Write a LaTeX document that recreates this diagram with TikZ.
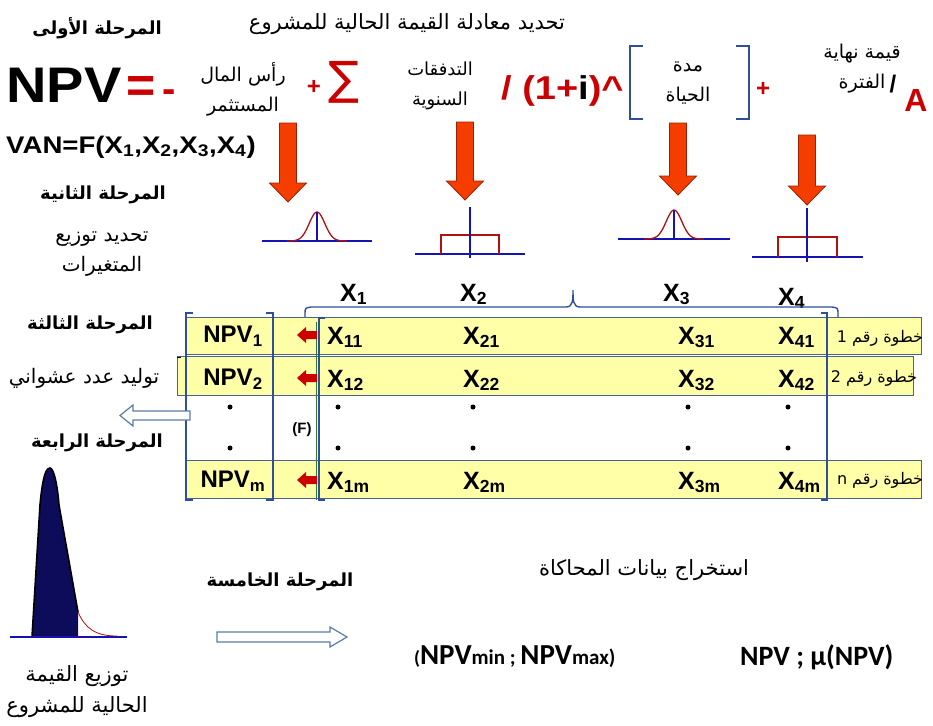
\documentclass[tikz,border=0pt]{standalone}
\usepackage{fontspec}
\setmainfont{Liberation Sans}
\newfontfamily\ar[Script=Arabic]{DejaVu Sans}
\newfontfamily\calfont{Carlito}
\TeXXeTstate=1
\newcommand\AR[1]{{\ar\beginR #1\endR}}
\definecolor{redA}{HTML}{CC0000}
\definecolor{arrowfill}{HTML}{F53D00}
\definecolor{arrowline}{HTML}{9A2000}
\definecolor{distblue}{HTML}{1414B4}
\definecolor{distred}{HTML}{B01010}
\definecolor{brblue}{HTML}{2F4F96}
\definecolor{rowfill}{HTML}{FFFFA8}
\definecolor{rowline}{HTML}{46648F}
\definecolor{navyfill}{HTML}{0C0C5A}
\definecolor{hollowline}{HTML}{5B7BA5}
\definecolor{greenL}{HTML}{2E7D32}
\newcommand\downblk[3]{\draw[arrowblk] (#1-8.5,#2) -- (#1+8.5,#2) -- (#1+8.5,#3-19) -- (#1+18.5,#3-19) -- (#1,#3) -- (#1-18.5,#3-19) -- (#1-8.5,#3-19) -- cycle;}
\newcommand\redleft[1]{\fill[redA] (317,#1-4) -- (306,#1-4) -- (306,#1-8) -- (297,#1) -- (306,#1+8) -- (306,#1+4) -- (317,#1+4) -- cycle;}
\newcommand\normd[3]{% center x, baseline y, half line length
  \draw[distblue, line width=1.6pt] (#1-#3,#2) -- (#1+#3,#2);
  \draw[distred, line width=1.3pt] plot[domain=-30:30, samples=41, smooth] ({#1+\x}, {#2-29*exp(-(\x/11)*(\x/11))});
  \draw[distblue, line width=1.6pt] (#1,#2) -- (#1,#2-29);}
\begin{document}
\begin{tikzpicture}[x=1pt,y=-1pt,
  t/.style={inner sep=0pt, align=center},
  arb/.style={t, font=\bfseries\fontsize{18}{20}\selectfont},
  arr/.style={t, font=\fontsize{19}{30}\selectfont},
  xb/.style={t, anchor=base west, font=\bfseries\fontsize{25}{25}\selectfont},
  npvb/.style={t, font=\bfseries\fontsize{24}{24}\selectfont},
  dotc/.style={fill=black, circle, inner sep=0pt, minimum size=5pt},
  arrowblk/.style={fill=arrowfill, draw=arrowline, line width=0.8pt},
  rowbox/.style={fill=rowfill, draw=rowline, line width=0.8pt},
  brk/.style={draw=brblue, line width=1.8pt},
  hollow/.style={fill=white, draw=hollowline, line width=1.2pt},
  stepl/.style={t, font=\fontsize{16}{16}\selectfont}]
\useasboundingbox (0,0) rectangle (933,725);

% ---------- stage 1 : equation ----------
\node[arb] (st1) at (97,28) {\AR{المرحلة الأولى}};
\node[t, font=\fontsize{21}{24}\selectfont] (ttl) at (407,24) {\AR{تحديد معادلة القيمة الحالية للمشروع}};
\node[t, anchor=base west, font=\bfseries\fontsize{50}{50}\selectfont, xscale=1.12] (npv) at (6,102) {NPV};
\node[t, anchor=base, text=redA, font=\bfseries\fontsize{50}{50}\selectfont] (eq) at (141,102) {=};
\node[t, anchor=base, text=redA, font=\bfseries\fontsize{40}{40}\selectfont] (minus) at (169,102) {-};
\node[arr] (cap) at (243,89) {\AR{رأس المال}\\\AR{المستثمر}};
\node[t, text=redA, font=\bfseries\fontsize{24}{24}\selectfont] (pl1) at (314,87) {+};
\node[t, text=redA, font=\ar\fontsize{46}{46}\selectfont] (sig) at (344,82) {∑};
\node[t, font=\fontsize{18}{30}\selectfont] (flows) at (440,86) {\AR{التدفقات}\\\AR{السنوية}};
\node[t, anchor=west, text=redA, font=\bfseries\fontsize{33}{33}\selectfont, xscale=1.15] (disc) at (501,91) {/ (1+\textcolor{black}{i})\textasciicircum};
\draw[brk] (643,46) -- (630,46) -- (630,119) -- (643,119);
\draw[brk] (736,46) -- (749,46) -- (749,119) -- (736,119);
\node[t, font=\fontsize{19}{30}\selectfont] (life) at (688,83) {\AR{مدة}\\\AR{الحياة}};
\node[t, text=redA, font=\bfseries\fontsize{24}{24}\selectfont] (pl2) at (763,89) {+};
\node[t, font=\fontsize{19}{30}\selectfont] (term) at (862,69) {\AR{قيمة نهاية}\\\AR{الفترة}};
\node[t, font=\bfseries\fontsize{24}{24}\selectfont] (sl) at (893,84) {/};
\node[t, text=redA, font=\bfseries\fontsize{32}{32}\selectfont] (A) at (916,100) {A};
\node[t, anchor=west, font=\bfseries\fontsize{24}{24}\selectfont, xscale=1.15] (van) at (6,147) {VAN=F(X\textsubscript{1},X\textsubscript{2},X\textsubscript{3},X\textsubscript{4})};

% ---------- arrows to distributions ----------
\downblk{288}{123}{202}
\downblk{465}{122}{200}
\downblk{678}{123}{195}
\downblk{807}{135}{205}

% ---------- stage 2 : distributions ----------
\normd{317}{241}{55}
\normd{674}{239}{56}
% uniform 2
\draw[distblue, line width=1.6pt] (415,254) -- (525,254);
\draw[distred, line width=1.3pt] (441,254) -- (441,235) -- (499,235) -- (499,254);
\draw[distblue, line width=1.6pt] (470,207) -- (470,258);
% uniform 4
\draw[distblue, line width=1.6pt] (752,257) -- (863,257);
\draw[distred, line width=1.3pt] (778,257) -- (778,237) -- (837,237) -- (837,257);
\draw[distblue, line width=1.6pt] (807,208) -- (807,262);

\node[arb] (st2) at (103,195) {\AR{المرحلة الثانية}};
\node[t, font=\fontsize{20}{30}\selectfont] (st2t) at (102,254) {\AR{تحديد توزيع}\\\AR{المتغيرات}};

% ---------- stage 3 : table ----------
\node[xb] (h1) at (340,301) {X\textsubscript{1}};
\node[xb] (h2) at (460,301) {X\textsubscript{2}};
\node[xb] (h3) at (663,301) {X\textsubscript{3}};
\node[xb] (h4) at (778,305) {X\textsubscript{4}};
\draw[brblue, line width=1.4pt] (305,325) -- (305,314) .. controls (305,308) .. (311,307) -- (566,307) .. controls (573,307) and (573,300) .. (573,290) .. controls (573,300) and (573,307) .. (580,307) -- (832,307) .. controls (838,308) .. (838,314) -- (838,322);
\draw[greenL, line width=1pt] (840,318) -- (840,330);

\node[rowbox, minimum width=735, minimum height=37, inner sep=0pt, anchor=north west] (r1) at (186,317) {};
\node[rowbox, minimum width=736, minimum height=39, inner sep=0pt, anchor=north west] (r2) at (177,356) {};
\node[rowbox, minimum width=735, minimum height=38, inner sep=0pt, anchor=north west] (rm) at (186,460) {};
\draw[black, line width=0.8pt] (181,357) -- (177,357);

% brackets
\draw[brk] (193,313) -- (186,313) -- (186,500) -- (193,500);
\draw[brk] (266,313) -- (273,313) -- (273,500) -- (266,500);
\draw[greenL, line width=1pt] (316,322) -- (316,500);
\draw[brk] (325,318) -- (319,318) -- (319,500) -- (325,500);
\draw[brk] (821,313) -- (827,313) -- (827,500) -- (821,500);

% NPV column
\node[npvb] (n1) at (233,336) {NPV\textsubscript{1}};
\node[npvb] (n2) at (233,379) {NPV\textsubscript{2}};
\node[npvb] (nm) at (233,481) {NPV\textsubscript{m}};
\node[t, font=\bfseries\fontsize{15}{15}\selectfont] (F) at (302,430) {(F)};
\redleft{335}
\redleft{378}
\redleft{480}

% cells
\node[xb] (x11) at (327,344) {X\textsubscript{11}};
\node[xb] (x21) at (463,344) {X\textsubscript{21}};
\node[xb] (x31) at (678,344) {X\textsubscript{31}};
\node[xb] (x41) at (778,344) {X\textsubscript{41}};
\node[xb] (x12) at (327,387) {X\textsubscript{12}};
\node[xb] (x22) at (463,387) {X\textsubscript{22}};
\node[xb] (x32) at (678,387) {X\textsubscript{32}};
\node[xb] (x42) at (778,387) {X\textsubscript{42}};
\node[xb] (x1m) at (327,489) {X\textsubscript{1m}};
\node[xb] (x2m) at (463,489) {X\textsubscript{2m}};
\node[xb] (x3m) at (678,489) {X\textsubscript{3m}};
\node[xb] (x4m) at (778,489) {X\textsubscript{4m}};
\foreach \cx in {230,338,473,688,788}{
  \node[dotc] at (\cx,407) {};
  \node[dotc] at (\cx,448) {};
}

\node[stepl] (s1) at (880,338) {\AR{خطوة رقم 1}};
\node[stepl] (s2) at (874,378) {\AR{خطوة رقم 2}};
\node[stepl] (sn) at (880,480) {\AR{خطوة رقم n}};

\node[arb] (st3) at (90,325) {\AR{المرحلة الثالثة}};
\node[t, font=\fontsize{20}{22}\selectfont] (rnd) at (84,378) {\AR{توليد عدد عشواني}};
\draw[hollow] (190,411) -- (133,411) -- (133,405) -- (120,415.5) -- (133,426) -- (133,420) -- (190,420) -- cycle;

% ---------- stage 4 ----------
\node[arb] (st4) at (97,443) {\AR{المرحلة الرابعة}};
\fill[navyfill] (32,637) -- (40,505) .. controls (43,472) and (47,468) .. (50,468) .. controls (53,468) and (57,480) .. (59,505) -- (78,612) -- (78,637) -- cycle;
\draw[black, line width=1.6pt] (32,637) -- (40,505) .. controls (43,472) and (47,468) .. (50,468) .. controls (53,468) and (57,480) .. (59,505) -- (78,612);
\draw[distred, line width=0.8pt] (78,612) .. controls (85,628) and (95,636) .. (117,636);
\draw[distblue, line width=1.6pt] (10,637) -- (127,637);
\node[t, font=\fontsize{21}{31}\selectfont] (dist) at (77,692) {\AR{توزيع القيمة}\\\AR{الحالية للمشروع}};

% ---------- stage 5 ----------
\node[arb] (st5) at (280,582) {\AR{المرحلة الخامسة}};
\draw[hollow] (217,632) -- (330,632) -- (330,627) -- (347,637) -- (330,647) -- (330,642) -- (217,642) -- cycle;
\node[t, font=\fontsize{21}{24}\selectfont] (ext) at (644,570) {\AR{استخراج بيانات المحاكاة}};
\node[t, anchor=west, font=\calfont\bfseries\fontsize{29}{29}\selectfont] (mm) at (414,657) {{\fontsize{19}{19}\selectfont(}NPV{\fontsize{21}{21}\selectfont min ; }NPV{\fontsize{21}{21}\selectfont max)}};
\node[t, anchor=west, font=\calfont\bfseries\fontsize{28}{28}\selectfont] (mu) at (740,657) {NPV ; μ(NPV)};
\end{tikzpicture}
\end{document}
